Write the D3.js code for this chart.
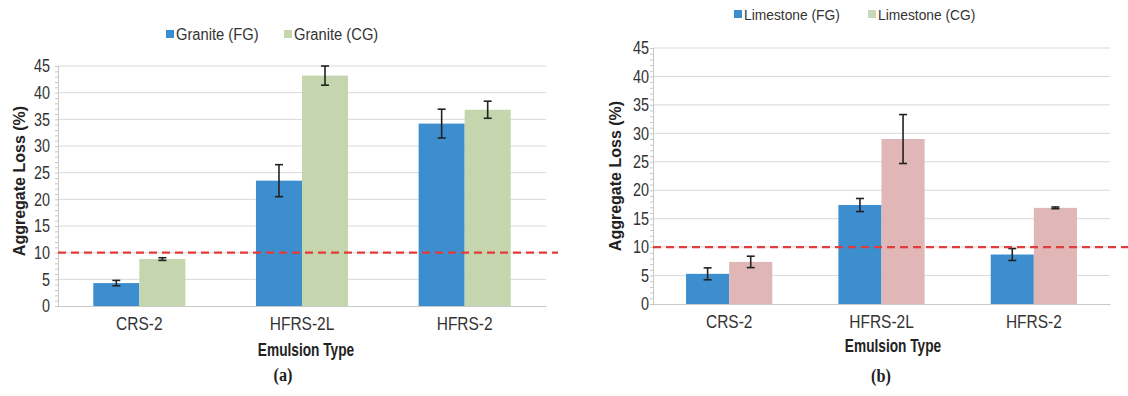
<!DOCTYPE html>
<html>
<head>
<meta charset="utf-8">
<script src="https://cdn.jsdelivr.net/npm/d3@7"></script>
<style>
  html, body { margin: 0; padding: 0; background: #fff; }
  svg { display: block; }
  .sans { font-family: "Liberation Sans", Arial, sans-serif; }
  .serif { font-family: "Liberation Serif", "Times New Roman", serif; }
</style>
</head>
<body>
<svg id="chart" width="1128" height="396"></svg>
<script>
// Emulsion types on the x axis
const categories = ["CRS-2", "HFRS-2L", "HFRS-2"];

// Panel (a): granite aggregate loss (%) and error half-widths
const graniteFG = [4.3, 23.5, 34.2];
const graniteFGErr = [0.5, 3.0, 2.7];
const graniteCG = [8.8, 43.2, 36.8];
const graniteCGErr = [0.25, 1.8, 1.6];

// Panel (b): limestone aggregate loss (%) and error half-widths
const limestoneFG = [5.3, 17.4, 8.7];
const limestoneFGErr = [1.05, 1.15, 1.05];
const limestoneCG = [7.4, 29.0, 16.9];
const limestoneCGErr = [1.0, 4.3, 0.15];

const yTicks = [0, 5, 10, 15, 20, 25, 30, 35, 40, 45];
const threshold = 10;

const graniteNames = ["Granite (FG)", "Granite (CG)"];
const limestoneNames = ["Limestone (FG)", "Limestone (CG)"];

const svg = d3.select("#chart");

// squeeze text horizontally to get a condensed face
function condense(sel, f) {
  sel.each(function () {
    const w = this.getComputedTextLength();
    d3.select(this).attr("textLength", w * f).attr("lengthAdjust", "spacingAndGlyphs");
  });
}

function drawPanel(p) {
  const g = svg.append("g");

  const y = d3.scaleLinear().domain([0, 45]).range([p.bottom, p.top]);
  const x0 = d3.scaleBand().domain(categories).range([p.left, p.right]).padding(0);
  const bw = x0.bandwidth();
  const x1 = d3.scaleBand().domain([0, 1]).range([bw * 0.217, bw * 0.783]).padding(0);

  // horizontal gridlines
  g.append("g").selectAll("line").data(yTicks.slice(1)).join("line")
    .attr("x1", p.left).attr("x2", p.right)
    .attr("y1", d => y(d)).attr("y2", d => y(d))
    .attr("stroke", "#d9d9d9").attr("stroke-width", 1);

  // y axis with a minor tick at every unit
  const yAxis = d3.axisLeft(y).tickValues(yTicks).tickSize(0).tickPadding(p.tickPad);
  const ya = g.append("g").attr("transform", `translate(${p.left},0)`).call(yAxis);
  ya.select(".domain").attr("stroke", "#c8c8c8");
  ya.selectAll("text").attr("class", "sans").attr("font-size", 18).attr("fill", "#333")
    .call(condense, 0.8);
  g.append("g").selectAll("line").data(d3.range(0, 46)).join("line")
    .attr("x1", p.left - 3).attr("x2", p.left + 1)
    .attr("y1", d => y(d) + 0.5).attr("y2", d => y(d) + 0.5)
    .attr("stroke", "#c8c8c8").attr("stroke-width", 1);

  // bars
  const rows = categories.map((c, i) => p.series.map((s, k) => ({ c, k, v: s.values[i], e: s.err[i], color: s.color })));
  const groups = g.append("g").selectAll("g").data(rows).join("g")
    .attr("transform", d => `translate(${x0(d[0].c)},0)`);
  groups.selectAll("rect").data(d => d).join("rect")
    .attr("x", d => x1(d.k)).attr("width", x1.bandwidth())
    .attr("y", d => y(d.v)).attr("height", d => y(0) - y(d.v))
    .attr("fill", d => d.color);

  // x axis
  const xAxis = d3.axisBottom(x0).tickSize(0).tickPadding(11);
  const xa = g.append("g").attr("transform", `translate(0,${p.bottom})`).call(xAxis);
  xa.select(".domain").attr("stroke", "#c8c8c8");
  xa.selectAll("text").attr("class", "sans").attr("font-size", 18).attr("fill", "#333")
    .call(condense, 0.86);

  // error bars
  const eb = groups.selectAll("g.err").data(d => d).join("g").attr("class", "err")
    .attr("stroke", "#222").attr("stroke-width", 1.6);
  const cx = d => x1(d.k) + x1.bandwidth() / 2;
  eb.append("line").attr("x1", cx).attr("x2", cx)
    .attr("y1", d => y(d.v + d.e)).attr("y2", d => y(d.v - d.e));
  eb.append("line").attr("x1", d => cx(d) - 4).attr("x2", d => cx(d) + 4)
    .attr("y1", d => y(d.v + d.e)).attr("y2", d => y(d.v + d.e));
  eb.append("line").attr("x1", d => cx(d) - 4).attr("x2", d => cx(d) + 4)
    .attr("y1", d => y(d.v - d.e)).attr("y2", d => y(d.v - d.e));

  // 10% threshold
  g.append("line")
    .attr("x1", p.left).attr("x2", p.lineEnd)
    .attr("y1", y(threshold)).attr("y2", y(threshold))
    .attr("stroke", "#e23b3b").attr("stroke-width", 2.2)
    .attr("stroke-dasharray", "8,5");

  // legend
  const lg = g.append("g").selectAll("g").data(p.legend).join("g")
    .attr("transform", d => `translate(${d.x},${p.legendY})`);
  lg.append("rect").attr("x", 0).attr("y", -4).attr("width", 8).attr("height", 8)
    .attr("fill", d => d.color);
  lg.append("text").attr("class", "sans").attr("x", 10).attr("y", 5.5)
    .attr("font-size", p.legendSize).attr("fill", "#333").text(d => d.name)
    .call(condense, 0.92);

  // axis titles and panel tag
  g.append("text").attr("class", "sans")
    .attr("transform", `translate(${p.titleX},${p.titleY}) rotate(-90)`)
    .attr("text-anchor", "middle").attr("dominant-baseline", "central")
    .attr("font-size", 16).attr("font-weight", "bold").attr("fill", "#222")
    .text("Aggregate Loss (%)");
  g.append("text").attr("class", "sans")
    .attr("x", p.xTitleX).attr("y", p.xTitleY).attr("text-anchor", "middle")
    .attr("font-size", 19).attr("font-weight", "bold").attr("fill", "#222")
    .text("Emulsion Type")
    .call(condense, 0.72);
  g.append("text").attr("class", "serif")
    .attr("x", p.tagX).attr("y", p.tagY).attr("text-anchor", "middle")
    .attr("font-size", 18).attr("font-weight", "bold").attr("fill", "#222")
    .text(p.tag)
    .call(condense, 0.9);
}

const blue = "#3d8ecf";

drawPanel({
  left: 58, right: 546, top: 66, bottom: 306, lineEnd: 558, tickPad: 8,
  series: [
    { values: graniteFG, err: graniteFGErr, color: blue },
    { values: graniteCG, err: graniteCGErr, color: "#c5d5ad" }
  ],
  legend: [
    { name: graniteNames[0], color: blue, x: 166 },
    { name: graniteNames[1], color: "#c5d5ad", x: 284 }
  ],
  legendY: 34, legendSize: 16,
  titleX: 19, titleY: 181,
  xTitleX: 306, xTitleY: 356,
  tagX: 283, tagY: 381, tag: "(a)"
});

drawPanel({
  left: 653, right: 1110, top: 48, bottom: 304, lineEnd: 1128, tickPad: 4,
  series: [
    { values: limestoneFG, err: limestoneFGErr, color: blue },
    { values: limestoneCG, err: limestoneCGErr, color: "#e0b6b6" }
  ],
  legend: [
    { name: limestoneNames[0], color: blue, x: 734 },
    { name: limestoneNames[1], color: "#c9d7b7", x: 868 }
  ],
  legendY: 14, legendSize: 15,
  titleX: 615, titleY: 176,
  xTitleX: 893, xTitleY: 352,
  tagX: 881, tagY: 382, tag: "(b)"
});
</script>
</body>
</html>
